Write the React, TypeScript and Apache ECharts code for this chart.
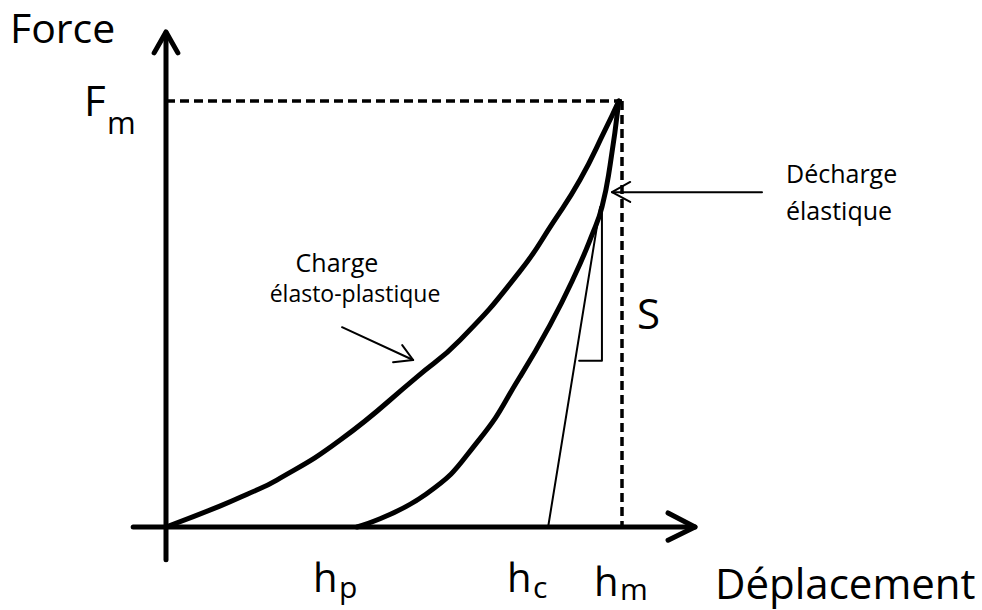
import React, { useEffect, useRef } from "react";
import * as echarts from "echarts";

// Normalised units: displacement / hm, force / Fm
const loadDisp = [0, 0.118, 0.178, 0.243, 0.382, 0.55, 0.645, 0.776, 0.849, 0.908, 0.963, 0.993];
const loadForce = [0, 0.049, 0.077, 0.11, 0.204, 0.352, 0.439, 0.6, 0.715, 0.815, 0.932, 1.0];

const unloadDisp = [0.419, 0.57, 0.686, 0.776, 0.842, 0.897, 0.934, 0.956, 0.974, 0.993];
const unloadForce = [0, 0.077, 0.204, 0.352, 0.474, 0.592, 0.685, 0.751, 0.85, 1.0];

const tangentDisp = [0.838, 0.952];
const tangentForce = [0, 0.751];

const slopeDisp = [0.906, 0.956, 0.956];
const slopeForce = [0.39, 0.39, 0.751];

const fmDisp = [0, 1];
const fmForce = [1, 1];
const hmDisp = [1, 1];
const hmForce = [1, 0];

const xAxisDisp = [-0.072, 1.16];
const xAxisForce = [0, 0];
const xHeadDisp = [1.101, 1.16, 1.101];
const xHeadForce = [0.033, 0, -0.031];

const yAxisDisp = [0, 0];
const yAxisForce = [-0.077, 1.16];
const yHeadDisp = [-0.026, 0, 0.026];
const yHeadForce = [1.113, 1.162, 1.113];

const dechargeDisp = [1.307, 0.978];
const dechargeForce = [0.786, 0.786];
const dechargeHeadDisp = [1.018, 0.978, 1.018];
const dechargeHeadForce = [0.81, 0.786, 0.763];

const chargeDisp = [0.386, 0.542];
const chargeForce = [0.469, 0.392];
const chargeHeadDisp = [0.518, 0.542, 0.498];
const chargeHeadForce = [0.427, 0.392, 0.387];

const FONT = "'Open Sans', 'Noto Sans', sans-serif";

function pts(xs: number[], ys: number[]) {
  return xs.map((x, i) => [x, ys[i]]);
}

function seg(xs: number[], ys: number[], width: number, opts: any = {}) {
  return {
    type: "line",
    data: pts(xs, ys),
    symbol: "none",
    showSymbol: false,
    silent: true,
    smooth: opts.smooth ?? false,
    lineStyle: {
      color: "#000",
      width,
      type: opts.dash ? [9, 5] : "solid",
      cap: opts.dash ? "butt" : "round",
      join: "round",
    },
    z: opts.z ?? 2,
  };
}

function txt(text: string, x: number, y: number, size: number, align = "left") {
  return {
    type: "text",
    x,
    y,
    silent: true,
    style: {
      text,
      fill: "#000",
      font: `${size}px ${FONT}`,
      fontSize: size,
      fontFamily: FONT,
      align,
      textAlign: align,
      verticalAlign: "middle",
      textVerticalAlign: "middle",
    },
  };
}

export default function App() {
  const ref = useRef<HTMLDivElement>(null);
  useEffect(() => {
    document.body.style.margin = "0";
    const chart = echarts.init(ref.current!, null, { renderer: "svg" });
    chart.setOption({
      animation: false,
      backgroundColor: "#fff",
      grid: { left: 0, right: 0, top: 0, bottom: 0 },
      xAxis: { type: "value", min: -166 / 456, max: 816 / 456, show: false },
      yAxis: { type: "value", min: -83 / 426, max: 527 / 426, show: false },
      series: [
        seg(fmDisp, fmForce, 3.5, { dash: true }),
        seg(hmDisp, hmForce, 3.5, { dash: true }),
        seg(xAxisDisp, xAxisForce, 5),
        seg(xHeadDisp, xHeadForce, 5),
        seg(yAxisDisp, yAxisForce, 5),
        seg(yHeadDisp, yHeadForce, 5),
        seg(loadDisp, loadForce, 5, { smooth: 0.5, z: 3 }),
        seg(unloadDisp, unloadForce, 5, { smooth: 0.5, z: 3 }),
        seg(tangentDisp, tangentForce, 2),
        seg(slopeDisp, slopeForce, 2),
        seg(dechargeDisp, dechargeForce, 2),
        seg(dechargeHeadDisp, dechargeHeadForce, 2),
        seg(chargeDisp, chargeForce, 2),
        seg(chargeHeadDisp, chargeHeadForce, 2),
      ],
      graphic: [
        txt("Force", 10, 27, 41),
        txt("F", 84, 99, 42),
        txt("m", 107, 122, 31),
        txt("h", 313, 576, 40),
        txt("p", 339, 586, 30),
        txt("h", 507, 576, 40),
        txt("c", 533, 586, 30),
        txt("h", 594, 580, 40),
        txt("m", 620, 588, 30),
        txt("Déplacement", 715, 582, 42),
        txt("S", 637, 312, 42),
        txt("Décharge", 786, 173, 25),
        txt("élastique", 786, 210, 25),
        txt("Charge", 337, 262, 25, "center"),
        txt("élasto-plastique", 355, 293, 23, "center"),
      ],
    });
    return () => chart.dispose();
  }, []);
  return <div ref={ref} style={{ width: 982, height: 610, background: "#fff" }} />;
}
